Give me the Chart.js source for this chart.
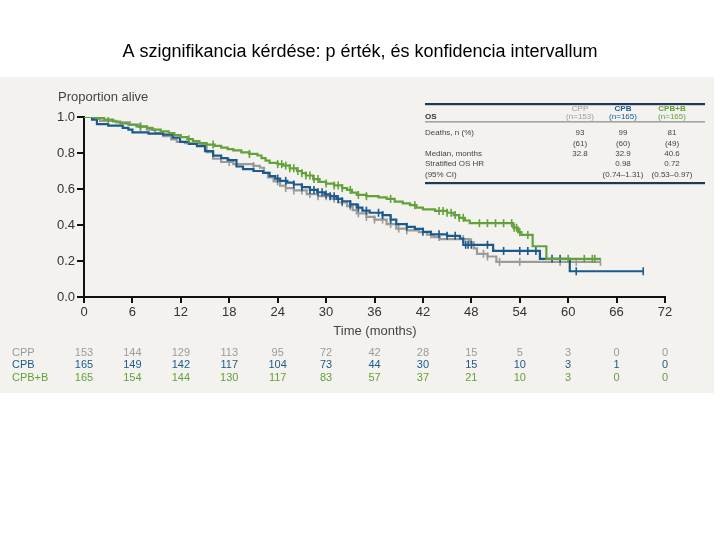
<!DOCTYPE html>
<html><head><meta charset="utf-8">
<script src="https://cdn.jsdelivr.net/npm/chart.js@4"></script>
<style>html,body{margin:0;padding:0;background:#fff}#wrap{width:720px;height:540px}</style>
</head><body><div id="wrap"><canvas id="c" width="720" height="540"></canvas></div>
<script>
const chartTitle = "A szignifikancia kérdése: p érték, és konfidencia intervallum";
const seriesNames = ["CPP", "CPB", "CPB+B"];
const seriesColors = ["#9b9b9b", "#1d5a8c", "#63a23a"];
// KM step curves: [month, proportion alive]
const cppCurve = [[0,1],[1,0.99],[2,0.978],[4,0.97],[5.7,0.958],[6.8,0.945],[7.8,0.93],[8.8,0.91],[9.8,0.893],[10.8,0.875],[11.5,0.862],[12.5,0.855],[14.4,0.847],[15.2,0.805],[16,0.768],[17,0.75],[18.5,0.738],[21,0.728],[21.8,0.718],[22.3,0.69],[22.8,0.665],[23.5,0.642],[24.3,0.618],[25,0.605],[26,0.592],[27.6,0.572],[29,0.56],[30.5,0.546],[31.5,0.525],[32.6,0.505],[33.3,0.483],[33.8,0.465],[35,0.445],[36,0.43],[37.5,0.405],[38.7,0.38],[40,0.37],[41.5,0.36],[42.5,0.347],[43.3,0.333],[44.1,0.322],[47.8,0.303],[48.3,0.27],[48.7,0.24],[50,0.225],[51.1,0.195],[64,0.195]];
const cpbCurve = [[0,1],[1,0.985],[1.6,0.96],[3,0.952],[4.8,0.94],[5.5,0.93],[6,0.915],[8,0.908],[9.8,0.902],[11,0.885],[11.9,0.862],[13,0.85],[14,0.838],[15,0.81],[16,0.785],[17,0.772],[17.8,0.76],[18.9,0.725],[19.7,0.71],[21,0.7],[22.2,0.69],[23,0.672],[23.7,0.658],[24.3,0.645],[25.2,0.635],[26,0.625],[27,0.61],[28,0.595],[28.9,0.582],[29.8,0.57],[30.5,0.56],[31.3,0.545],[32,0.532],[33,0.515],[33.8,0.497],[34.5,0.48],[35.4,0.468],[37,0.455],[38,0.43],[38.7,0.405],[40,0.39],[41,0.378],[42,0.362],[43,0.348],[45,0.34],[46.6,0.325],[47,0.29],[50.7,0.256],[56.5,0.212],[60.2,0.143],[69.3,0.143]];
const cpbbCurve = [[0,1],[1.5,0.994],[2.5,0.985],[3.6,0.975],[4.5,0.965],[5.5,0.957],[6.5,0.948],[7.8,0.94],[8.5,0.93],[9.5,0.92],[10.5,0.91],[11.2,0.9],[12,0.888],[12.8,0.877],[13.5,0.866],[14.3,0.855],[15.2,0.847],[16.2,0.84],[17,0.83],[17.8,0.822],[18.5,0.815],[19.5,0.803],[20.5,0.795],[21.5,0.786],[22,0.772],[22.5,0.758],[23,0.745],[24,0.738],[24.7,0.73],[25.5,0.715],[26.4,0.70],[27,0.688],[27.5,0.675],[28.4,0.655],[29.2,0.64],[30,0.63],[31,0.62],[32,0.605],[32.6,0.595],[33.2,0.58],[33.8,0.567],[35,0.56],[36.5,0.553],[37.5,0.545],[38.5,0.53],[39.5,0.52],[40.4,0.51],[41.2,0.497],[42,0.487],[43.5,0.478],[45,0.468],[45.8,0.455],[46.5,0.44],[47.2,0.425],[47.8,0.41],[53.2,0.385],[53.8,0.36],[54.2,0.345],[55.6,0.282],[57.3,0.212],[64,0.212]];
// censoring times (months)
const cppCensor = [7,18,21,24,25,26,27,28,29,30,31,32,33,34,35,36,37,38,39,40,43,44,47,48,49.5,50,51.5,54,59,61,64];
const cpbCensor = [24,25,26,27,28,28.5,29,29.5,30,30.5,31,31.5,32,33,34,35,36.5,37,38,40,42,44,45,46,47.3,47.6,48,50,52,54,55,56,58,59,61,69.3];
const cpbbCensor = [3,7,13,16,20.5,24,24.5,25,25.5,26,26.5,27,27.5,28,28.5,29,30,31,31.5,32,33,34,35,38,41,44,44.5,45,45.5,46,46.5,47,49,50,51,52,53,53.3,53.6,54,55,60,62,63,63.3];
// axes
const xTicks = [0,6,12,18,24,30,36,42,48,54,60,66,72];
const yTicks = [0,0.2,0.4,0.6,0.8,1.0];
// number at risk
const riskTimes = [0,6,12,18,24,30,36,42,48,54,60,66,72];
const cppRisk = [153,144,129,113,95,72,42,28,15,5,3,0,0];
const cpbRisk = [165,149,142,117,104,73,44,30,15,10,3,1,0];
const cpbbRisk = [165,154,144,130,117,83,57,37,21,10,3,0,0];
// inset table
const tableHeader = ["OS", "CPP\n(n=153)", "CPB\n(n=165)", "CPB+B\n(n=165)"];
const tableRowLabels = ["Deaths, n (%)", "", "Median, months", "Stratified OS HR", "(95% CI)"];
const tableCPP = ["93", "(61)", "32.8", "", ""];
const tableCPB = ["99", "(60)", "32.9", "0.98", "(0.74\u20131.31)"];
const tableCPBB = ["81", "(49)", "40.6", "0.72", "(0.53\u20130.97)"];

const FONT = "'Liberation Sans', Arial, sans-serif";
const curves = [cppCurve, cpbCurve, cpbbCurve];
const censors = [cppCensor, cpbCensor, cpbbCensor];
const risks = [cppRisk, cpbRisk, cpbbRisk];

function survAt(curve, t) {
  let v = curve[0][1];
  for (const p of curve) { if (p[0] <= t) v = p[1]; else break; }
  return v;
}

const datasets = [];
curves.forEach((c, i) => {
  datasets.push({
    label: seriesNames[i],
    data: c.map(p => ({x: p[0], y: p[1]})),
    borderColor: seriesColors[i], backgroundColor: seriesColors[i],
    borderWidth: 2.2, stepped: 'before', pointRadius: 0, fill: false, order: 3 - i
  });
});
censors.forEach((c, i) => {
  datasets.push({
    label: seriesNames[i] + " censored",
    data: c.map(t => ({x: t, y: survAt(curves[i], t)})),
    showLine: false, pointStyle: 'line', rotation: 90, pointRadius: 4,
    borderColor: seriesColors[i], backgroundColor: seriesColors[i], pointBorderWidth: 1.6, order: 3 - i
  });
});

const decor = {
  id: 'decor',
  beforeDraw(chart) {
    const ctx = chart.ctx;
    ctx.save();
    ctx.fillStyle = '#fff'; ctx.fillRect(0, 0, 720, 540);
    ctx.fillStyle = '#f3f2ef'; ctx.fillRect(0, 77, 714, 316);
    ctx.fillStyle = '#000'; ctx.font = "18px " + FONT; ctx.textAlign = 'center'; ctx.textBaseline = 'middle';
    ctx.fillText(chartTitle, 360, 52);
    ctx.restore();
  },
  afterDraw(chart) {
    const ctx = chart.ctx, xs = chart.scales.x;
    ctx.save();
    ctx.textBaseline = 'middle';
    ctx.fillStyle = '#444'; ctx.font = "13px " + FONT; ctx.textAlign = 'left';
    ctx.fillText("Proportion alive", 58, 97);
    ctx.textAlign = 'center';
    ctx.fillText("Time (months)", 375, 331);
    // number at risk
    const rowY = [352.5, 365, 377.5];
    ctx.font = "11px " + FONT;
    risks.forEach((r, i) => {
      ctx.fillStyle = seriesColors[i];
      ctx.textAlign = 'left'; ctx.fillText(seriesNames[i], 12, rowY[i]);
      ctx.textAlign = 'center';
      r.forEach((v, j) => ctx.fillText(String(v), xs.getPixelForValue(riskTimes[j]), rowY[i]));
    });
    // inset table
    const L = 425, R = 705, colX = [0, 580, 623, 672];
    ctx.fillStyle = '#1f3a56';
    ctx.fillRect(L, 103, R - L, 2.2);
    ctx.fillRect(L, 182, R - L, 2.2);
    ctx.fillStyle = '#555'; ctx.fillRect(L, 121.5, R - L, 0.8);
    ctx.font = "bold 8px " + FONT; ctx.textAlign = 'left'; ctx.fillStyle = '#333';
    ctx.fillText(tableHeader[0], L, 117);
    const hdrCol = [null, seriesColors[0], seriesColors[1], seriesColors[2]];
    for (let k = 1; k < 4; k++) {
      const parts = tableHeader[k].split("\n");
      ctx.font = (k === 1 ? "" : "bold ") + "8px " + FONT;
      ctx.fillStyle = hdrCol[k]; ctx.textAlign = 'center';
      ctx.fillText(parts[0], colX[k], 108.5);
      ctx.font = "8px " + FONT;
      ctx.fillText(parts[1], colX[k], 117);
    }
    const rowYs = [133, 143.5, 154, 164, 174.5];
    ctx.font = "8px " + FONT; ctx.fillStyle = '#444';
    tableRowLabels.forEach((s, r) => {
      ctx.textAlign = 'left'; ctx.fillText(s, L, rowYs[r]);
      ctx.textAlign = 'center';
      ctx.fillText(tableCPP[r], colX[1], rowYs[r]);
      ctx.fillText(tableCPB[r], colX[2], rowYs[r]);
      ctx.fillText(tableCPBB[r], colX[3], rowYs[r]);
    });
    ctx.restore();
  }
};

new Chart(document.getElementById('c'), {
  type: 'line',
  data: { datasets },
  options: {
    responsive: false, animation: false, devicePixelRatio: 1,
    layout: { padding: { left: 0, right: 55, top: 117, bottom: 0 } },
    plugins: { legend: { display: false }, title: { display: false }, tooltip: { enabled: false } },
    scales: {
      x: {
        type: 'linear', min: 0, max: 72,
        afterBuildTicks: s => { s.ticks = xTicks.map(v => ({value: v})); },
        afterFit: s => { s.height = 243; },
        grid: { drawOnChartArea: false, drawTicks: true, tickLength: 6, color: '#111', lineWidth: 2 },
        border: { color: '#111', width: 2 },
        ticks: { color: '#333', font: { family: FONT, size: 13 }, padding: 2, maxRotation: 0, autoSkip: false }
      },
      y: {
        min: 0, max: 1,
        afterBuildTicks: s => { s.ticks = yTicks.map(v => ({value: v})); },
        afterFit: s => { s.width = 84; },
        grid: { drawOnChartArea: false, drawTicks: true, tickLength: 7, color: '#111', lineWidth: 2 },
        border: { color: '#111', width: 2 },
        ticks: { color: '#333', font: { family: FONT, size: 13 }, padding: 2, callback: v => Number(v).toFixed(1) }
      }
    }
  },
  plugins: [decor]
});
</script></body></html>
